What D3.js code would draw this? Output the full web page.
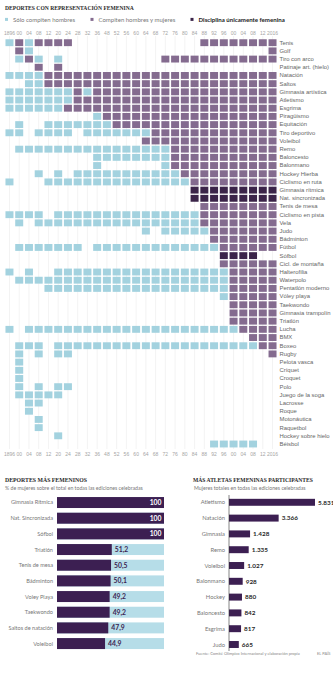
<!DOCTYPE html>
<html lang="es">
<head>
<meta charset="utf-8">
<title>Deportes con representación femenina</title>
<script src="https://cdnjs.cloudflare.com/ajax/libs/d3/7.8.5/d3.min.js"></script>
<style>
  body { margin: 0; background: #fff; }
  svg { display: block; font-family: Lato, "Open Sans", sans-serif; }
  .ttl { font-family: "Liberation Serif", "DejaVu Serif", serif; font-weight: bold; fill: #2b2b2b; }
</style>
</head>
<body>
<script>
// Olympic editions (columns of the grid)
var years = [1896, 1900, 1904, 1908, 1912, 1920, 1924, 1928, 1932, 1936, 1948, 1952, 1956, 1960,
             1964, 1968, 1972, 1976, 1980, 1984, 1988, 1992, 1996, 2000, 2004, 2008, 2012, 2016];
var yearTicks = ["1896", "00", "04", "08", "12", "20", "24", "28", "32", "36", "48", "52", "56", "60",
                 "64", "68", "72", "76", "80", "84", "88", "92", "96", "00", "04", "08", "12", "2016"];

var sports = ["Tenis", "Golf", "Tiro con arco", "Patinaje art. (hielo)", "Natación", "Saltos",
  "Gimnasia artística", "Atletismo", "Esgrima", "Piragüismo", "Equitación", "Tiro deportivo",
  "Voleibol", "Remo", "Baloncesto", "Balonmano", "Hockey Hierba", "Ciclismo en ruta",
  "Gimnasia rítmica", "Nat. sincronizada", "Tenis de mesa", "Ciclismo en pista", "Vela", "Judo",
  "Bádminton", "Fútbol", "Sófbol", "Cicl. de montaña", "Halterofilia", "Waterpolo",
  "Pentatlón moderno", "Vóley playa", "Taekwondo", "Gimnasia trampolín", "Triatlón", "Lucha",
  "BMX", "Boxeo", "Rugby", "Pelota vasca", "Críquet", "Croquet", "Polo", "Juego de la soga",
  "Lacrosse", "Roque", "Motonáutica", "Raquetbol", "Hockey sobre hielo", "Béisbol"];

// one char per edition: m = sólo hombres, b = hombres y mujeres, w = sólo mujeres, . = no se disputó
// grouped in fours: 1896-1908 | 1912-1928 | 1932-1952 | 1956-1968 | 1972-1984 | 1988-2000 | 2004-2016
var rowStatus = [
  "mbmb bbb. .... .... .... bbbb bbbb", // Tenis
  ".bm. .... .... .... .... .... ...b", // Golf
  ".mbm .m.. .... .... bbbb bbbb bbbb", // Tiro con arco
  "...b .b.. .... .... .... .... ....", // Patinaje
  "mmmm bbbb bbbb bbbb bbbb bbbb bbbb", // Natación
  "..mm bbbb bbbb bbbb bbbb bbbb bbbb", // Saltos
  "mmmm mmmb mbbb bbbb bbbb bbbb bbbb", // Gimnasia artística
  "mmmm mmmb bbbb bbbb bbbb bbbb bbbb", // Atletismo
  "mmmm mmbb bbbb bbbb bbbb bbbb bbbb", // Esgrima
  ".... .... .mbb bbbb bbbb bbbb bbbb", // Piragüismo
  ".m.. mmmm mmmb bbbb bbbb bbbb bbbb", // Equitación
  "mm.m mmm. mmmm mmmb bbbb bbbb bbbb", // Tiro deportivo
  ".... .... .... ..bb bbbb bbbb bbbb", // Voleibol
  ".mmm mmmm mmmm mmmm mbbb bbbb bbbb", // Remo
  ".... .... .mmm mmmm mbbb bbbb bbbb", // Baloncesto
  ".... .... .m.. .... mbbb bbbb bbbb", // Balonmano
  "...m .m.m mmmm mmmm mmbb bbbb bbbb", // Hockey Hierba
  "m... mmmm mmmm mmmm mmmb bbbb bbbb", // Ciclismo en ruta
  ".... .... .... .... ...w wwww wwww", // Gimnasia rítmica
  ".... .... .... .... ...w wwww wwww", // Nat. sincronizada
  ".... .... .... .... .... bbbb bbbb", // Tenis de mesa
  "mmmm .mmm mmmm mmmm mmmm bbbb bbbb", // Ciclismo en pista
  ".m.m mmmm mmmm mmmm mmmm bbbb bbbb", // Vela
  ".... .... .... ..m. mmmm mbbb bbbb", // Judo
  ".... .... .... .... .... .bbb bbbb", // Bádminton
  ".mmm mmmm .mmm mmmm mmmm mmbb bbbb", // Fútbol
  ".... .... .... .... .... ..ww ww..", // Sófbol
  ".... .... .... .... .... ..bb bbbb", // Cicl. de montaña
  "m.m. .mmm mmmm mmmm mmmm mmmb bbbb", // Halterofilia
  ".mmm mmmm mmmm mmmm mmmm mmmb bbbb", // Waterpolo
  ".... mmmm mmmm mmmm mmmm mmmb bbbb", // Pentatlón moderno
  ".... .... .... .... .... ..mb bbbb", // Vóley playa
  ".... .... .... .... .... ...b bbbb", // Taekwondo
  ".... .... .... .... .... ...b bbbb", // Gimnasia trampolín
  ".... .... .... .... .... ...b bbbb", // Triatlón
  "m.mm mmmm mmmm mmmm mmmm mmmm bbbb", // Lucha
  ".... .... .... .... .... .... .bbb", // BMX
  ".mmm .mmm mmmm mmmm mmmm mmmm mmbb", // Boxeo
  ".m.m .mm. .... .... .... .... ...b", // Rugby
  ".m.. .... .... .... .... .... ....", // Pelota vasca
  ".m.. .... .... .... .... .... ....", // Críquet
  ".m.. .... .... .... .... .... ....", // Croquet
  ".m.m .mm. .... .... .... .... ....", // Polo
  ".mmm mm.. .... .... .... .... ....", // Juego de la soga
  "..mm .... .... .... .... .... ....", // Lacrosse
  "..m. .... .... .... .... .... ....", // Roque
  "...m .... .... .... .... .... ....", // Motonáutica
  "...m .... .... .... .... .... ....", // Raquetbol
  ".... .m.. .... .... .... .... ....", // Hockey sobre hielo
  ".... .... .... .... .... .mmm mm.."  // Béisbol
];

// % de mujeres sobre el total
var femSports = ["Gimnasia Rítmica", "Nat. Sincronizada", "Sófbol", "Triatlón", "Tenis de mesa",
                 "Bádminton", "Voley Playa", "Taekwondo", "Saltos de natación", "Voleibol"];
var femPct = [100, 100, 100, 51.2, 50.5, 50.1, 49.2, 49.2, 47.9, 44.9];

// mujeres totales por deporte
var athSports = ["Atletismo", "Natación", "Gimnasia", "Remo", "Voleibol", "Balonmano", "Hockey",
                 "Baloncesto", "Esgrima", "Judo"];
var athCount = [5831, 3366, 1428, 1335, 1027, 928, 880, 842, 817, 665];

var width = 333, height = 675;
var colors = {m: "#a3d2df", b: "#846b8f", w: "#3b2449"};
var darkBar = "#3c1f52", lightBar = "#b6dde8";

var es = d3.formatLocale({decimal: ",", thousands: ".", grouping: [3], currency: ["", " €"]});

var svg = d3.select("body").append("svg")
    .attr("width", width)
    .attr("height", height);

// ---- grid of editions ----
var x = d3.scaleBand().domain(years).range([4.6, 277.4]).paddingInner(0.18).paddingOuter(0.09);
var y = d3.scaleBand().domain(sports).range([38.6, 448.1]).paddingInner(0.16).paddingOuter(0.08);

svg.append("text").attr("class", "ttl")
    .attr("x", 5).attr("y", 9.5)
    .style("font-size", "5.6px")
    .text("DEPORTES CON REPRESENTACIÓN FEMENINA");

// legend
var legend = [
  {k: "m", label: "Sólo compiten hombres", x: 5, bold: false},
  {k: "b", label: "Compiten hombres y mujeres", x: 90.5, bold: false},
  {k: "w", label: "Disciplina únicamente femenina", x: 190.5, bold: true}
];
var lg = svg.selectAll("g.legend").data(legend).enter().append("g")
    .attr("class", "legend")
    .attr("transform", function(d) { return "translate(" + d.x + ",19.5)"; });
lg.append("rect").attr("x", 0).attr("y", -1.6).attr("width", 3).attr("height", 3)
    .attr("fill", function(d) { return colors[d.k]; });
lg.append("text").attr("x", 8).attr("dy", "0.35em")
    .style("font-size", function(d) { return d.bold ? "6.1px" : "6px"; })
    .style("font-weight", function(d) { return d.bold ? "bold" : "normal"; })
    .attr("fill", function(d) { return d.bold ? "#222" : "#777"; })
    .text(function(d) { return d.label; });

// vertical guide lines
svg.append("g").selectAll("line").data(years).enter().append("line")
    .attr("x1", function(d) { return x(d) + x.bandwidth() / 2; })
    .attr("x2", function(d) { return x(d) + x.bandwidth() / 2; })
    .attr("y1", 36).attr("y2", 449)
    .attr("stroke", "#e6e6e6").attr("stroke-width", 0.5);

// cells
var cells = [];
rowStatus.forEach(function(row, i) {
  row.replace(/ /g, "").split("").forEach(function(c, j) {
    if (c !== ".") cells.push({sport: sports[i], year: years[j], k: c});
  });
});

svg.append("g").selectAll("rect").data(cells).enter().append("rect")
    .attr("x", function(d) { return x(d.year); })
    .attr("y", function(d) { return y(d.sport); })
    .attr("width", x.bandwidth())
    .attr("height", y.bandwidth())
    .attr("fill", function(d) { return colors[d.k]; });

// year axes
function styleAxis(g) {
  g.select(".domain").remove();
  g.selectAll("text").attr("fill", "#a5a5a5").style("font-size", "5px");
}
svg.append("g").attr("transform", "translate(0,34.5)")
    .call(d3.axisTop(x).tickSize(0).tickPadding(0).tickFormat(function(d, i) { return yearTicks[i]; }))
    .call(styleAxis);
svg.append("g").attr("transform", "translate(0,452)")
    .call(d3.axisBottom(x).tickSize(0).tickPadding(0).tickFormat(function(d, i) { return yearTicks[i]; }))
    .call(styleAxis);

// sport labels
svg.append("g").attr("transform", "translate(279.5,0)")
    .call(d3.axisRight(y).tickSize(0).tickPadding(0))
    .call(function(g) {
      g.select(".domain").remove();
      g.selectAll("text").attr("fill", "#666").style("font-size", "5.9px");
    });

// ---- deportes más femeninos ----
svg.append("text").attr("class", "ttl").attr("x", 5).attr("y", 482)
    .style("font-size", "5.8px").text("DEPORTES MÁS FEMENINOS");
svg.append("text").attr("x", 5).attr("y", 490)
    .style("font-size", "5.2px").attr("fill", "#777")
    .text("% de mujeres sobre el total en todas las ediciones celebradas");

var xb = d3.scaleLinear().domain([0, 100]).range([57, 164]);
var yb = d3.scaleBand().domain(femSports).range([494.7, 651.4]).paddingInner(0.3).paddingOuter(0.15);

var fb = svg.append("g").selectAll("g").data(femSports).enter().append("g");
fb.append("rect")
    .attr("x", xb(0)).attr("y", function(d) { return yb(d); })
    .attr("width", xb(100) - xb(0)).attr("height", yb.bandwidth())
    .attr("fill", lightBar);
fb.append("rect")
    .attr("x", xb(0)).attr("y", function(d) { return yb(d); })
    .attr("width", function(d, i) { return xb(femPct[i]) - xb(0); })
    .attr("height", yb.bandwidth())
    .attr("fill", darkBar);
fb.append("text")
    .attr("x", xb(0) - 4).attr("y", function(d) { return yb(d) + yb.bandwidth() / 2; })
    .attr("dy", "0.35em").attr("text-anchor", "end")
    .style("font-size", "5.6px").attr("fill", "#777")
    .text(function(d) { return d; });
fb.append("text")
    .attr("x", function(d, i) { return femPct[i] === 100 ? xb(100) - 2.5 : xb(femPct[i]) + 3; })
    .attr("y", function(d) { return yb(d) + yb.bandwidth() / 2; })
    .attr("dy", "0.35em")
    .attr("text-anchor", function(d, i) { return femPct[i] === 100 ? "end" : "start"; })
    .style("font-size", "6.8px").style("font-weight", "bold")
    .attr("fill", function(d, i) { return femPct[i] === 100 ? "#fff" : darkBar; })
    .text(function(d, i) { return femPct[i] === 100 ? "100" : es.format(".1f")(femPct[i]); });

// ---- más atletas femeninas participantes ----
svg.append("text").attr("class", "ttl").attr("x", 193).attr("y", 482)
    .style("font-size", "5.6px").text("MÁS ATLETAS FEMENINAS PARTICIPANTES");
svg.append("text").attr("x", 194).attr("y", 490)
    .style("font-size", "5.2px").attr("fill", "#777")
    .text("Mujeres totales en todas las ediciones celebradas");

var xa = d3.scaleLinear().domain([0, 5831]).range([229, 315]);
var ya = d3.scaleBand().domain(athSports).range([494.4, 652.4]).paddingInner(0.56).paddingOuter(0.28);

var ab = svg.append("g").selectAll("g").data(athSports).enter().append("g");
ab.append("rect")
    .attr("x", xa(0)).attr("y", function(d) { return ya(d); })
    .attr("width", function(d, i) { return xa(athCount[i]) - xa(0); })
    .attr("height", ya.bandwidth())
    .attr("fill", darkBar);
ab.append("text")
    .attr("x", xa(0) - 4).attr("y", function(d) { return ya(d) + ya.bandwidth() / 2; })
    .attr("dy", "0.35em").attr("text-anchor", "end")
    .style("font-size", "5.8px").attr("fill", "#777")
    .text(function(d) { return d; });
ab.append("text")
    .attr("x", function(d, i) { return xa(athCount[i]) + 3; })
    .attr("y", function(d) { return ya(d) + ya.bandwidth() / 2; })
    .attr("dy", "0.35em")
    .style("font-size", "6.4px").style("font-weight", "bold").attr("fill", "#2a2a2a")
    .text(function(d, i) { return es.format(",")(athCount[i]); });

svg.append("line")
    .attr("x1", xa(0)).attr("x2", xa(0)).attr("y1", 495).attr("y2", 651)
    .attr("stroke", "#333").attr("stroke-width", 0.6);

// source
svg.append("text").attr("x", 196).attr("y", 655)
    .style("font-size", "4px").attr("fill", "#888")
    .text("Fuente: Comité Olímpico Internacional y elaboración propia");
svg.append("text").attr("x", 317).attr("y", 655)
    .style("font-size", "4px").attr("fill", "#888")
    .text("EL PAÍS");
</script>
</body>
</html>
